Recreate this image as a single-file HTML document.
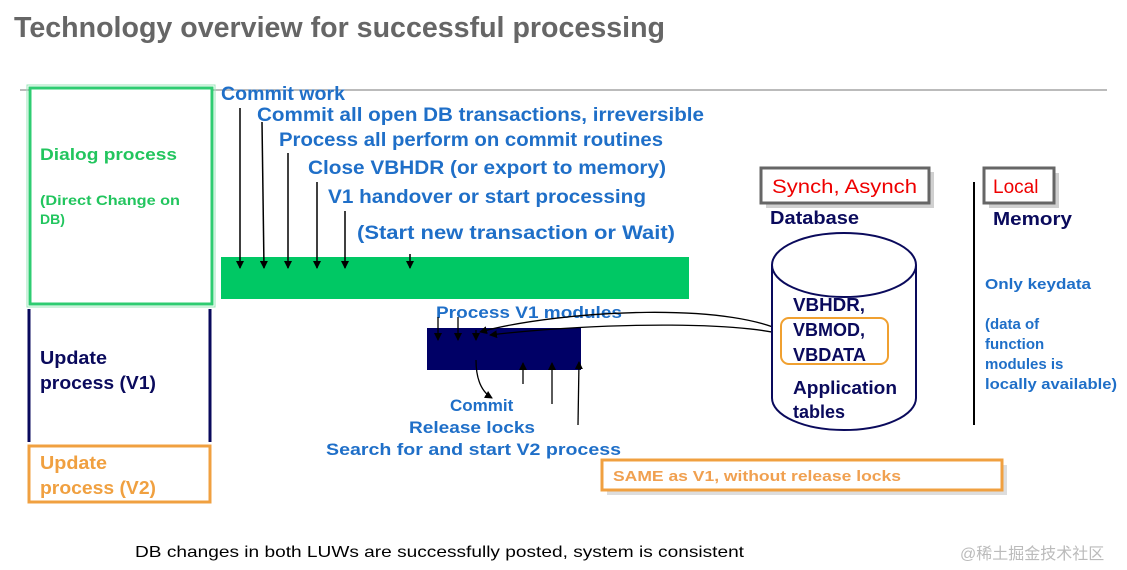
<!DOCTYPE html>
<html><head><meta charset="utf-8"><style>
html,body{margin:0;padding:0;background:#fff;}
svg{display:block}
.b{font-family:"Liberation Sans",sans-serif;font-weight:bold}
.blue{fill:#1f6fc8;font-size:19px}
.nv{fill:#0a0a5c;font-size:18px}
</style></head><body>
<svg width="1127" height="570" viewBox="0 0 1127 570" xmlns="http://www.w3.org/2000/svg">
<defs>
<marker id="h" markerWidth="8" markerHeight="8" refX="7" refY="4" orient="auto" markerUnits="userSpaceOnUse"><path d="M0,0 L8,4 L0,8 Z" fill="#000"/></marker></defs>
<text x="14" y="37" class="b" font-size="29" fill="#666" textLength="651" lengthAdjust="spacingAndGlyphs">Technology overview for successful processing</text>
<line x1="20" y1="90" x2="1107" y2="90" stroke="#777" stroke-width="1"/>
<rect x="30" y="88" width="182" height="216" fill="#fff" stroke="#2ecc71" stroke-width="3"/>
<rect x="27" y="85" width="188" height="222" fill="none" stroke="#9be6b8" stroke-width="1"/>
<text x="40" y="160" class="b" font-size="17" fill="#22c55e" textLength="137" lengthAdjust="spacingAndGlyphs">Dialog process</text>
<text x="40" y="205" class="b" font-size="14" fill="#22c55e" textLength="140" lengthAdjust="spacingAndGlyphs">(Direct Change on</text>
<text x="40" y="224" class="b" font-size="14" fill="#22c55e">DB)</text>
<line x1="29" y1="309" x2="29" y2="442" stroke="#0a0a5c" stroke-width="3"/>
<line x1="210" y1="309" x2="210" y2="442" stroke="#0a0a5c" stroke-width="3"/>
<text x="40" y="364" class="b nv" font-size="18" textLength="67" lengthAdjust="spacingAndGlyphs">Update</text>
<text x="40" y="389" class="b nv" font-size="18" textLength="116" lengthAdjust="spacingAndGlyphs">process (V1)</text>
<rect x="29" y="446" width="181" height="56" fill="#fff" stroke="#f0a040" stroke-width="3"/>
<text x="40" y="469" class="b" font-size="18" fill="#f0a040" textLength="67" lengthAdjust="spacingAndGlyphs">Update</text>
<text x="40" y="494" class="b" font-size="18" fill="#f0a040" textLength="116" lengthAdjust="spacingAndGlyphs">process (V2)</text>
<rect x="221" y="257" width="468" height="42" fill="#00c864"/>
<text x="221" y="100" class="b blue" textLength="124" lengthAdjust="spacingAndGlyphs">Commit work</text>
<text x="257" y="121" class="b blue" textLength="447" lengthAdjust="spacingAndGlyphs">Commit all open DB transactions, irreversible</text>
<text x="279" y="146" class="b blue" textLength="384" lengthAdjust="spacingAndGlyphs">Process all perform on commit routines</text>
<text x="308" y="174" class="b blue" textLength="358" lengthAdjust="spacingAndGlyphs">Close VBHDR (or export to memory)</text>
<text x="328" y="203" class="b blue" textLength="318" lengthAdjust="spacingAndGlyphs">V1 handover or start processing</text>
<text x="357" y="239" class="b blue" textLength="318" lengthAdjust="spacingAndGlyphs">(Start new transaction or Wait)</text>
<g stroke="#000" stroke-width="1.5">
<line x1="240" y1="108" x2="240" y2="268" marker-end="url(#h)"/>
<line x1="262" y1="122" x2="264" y2="268" marker-end="url(#h)"/>
<line x1="288" y1="153" x2="288" y2="268" marker-end="url(#h)"/>
<line x1="317" y1="182" x2="317" y2="268" marker-end="url(#h)"/>
<line x1="345" y1="211" x2="345" y2="268" marker-end="url(#h)"/>
<line x1="410" y1="254" x2="410" y2="268" marker-end="url(#h)"/>
</g>
<rect x="427" y="328" width="154" height="42" fill="#000066"/>
<text x="436" y="318" class="b" font-size="17" fill="#1f6fc8" textLength="186" lengthAdjust="spacingAndGlyphs">Process V1 modules</text>
<g stroke="#000" stroke-width="1.3" fill="none">
<line x1="438" y1="317" x2="438" y2="340" marker-end="url(#h)"/>
<line x1="458" y1="317" x2="458" y2="340" marker-end="url(#h)"/>
<line x1="476" y1="330" x2="476" y2="340" marker-end="url(#h)"/>
<path d="M793,337 C740,300 560,310 480,332" marker-end="url(#h)"/>
<path d="M800,340 C760,320 600,322 490,335" marker-end="url(#h)"/>
<path d="M476,360 C476,380 482,392 492,398" marker-end="url(#h)"/>
<line x1="523" y1="384" x2="523" y2="363" marker-end="url(#h)"/>
<line x1="552" y1="404" x2="552" y2="363" marker-end="url(#h)"/>
<line x1="578" y1="425" x2="579" y2="362" marker-end="url(#h)"/>
</g>
<text x="450" y="411" class="b" font-size="17" fill="#1f6fc8">Commit</text>
<text x="409" y="433" class="b" font-size="17" fill="#1f6fc8" textLength="126" lengthAdjust="spacingAndGlyphs">Release locks</text>
<text x="326" y="455" class="b" font-size="17" fill="#1f6fc8" textLength="295" lengthAdjust="spacingAndGlyphs">Search for and start V2 process</text>
<rect x="607" y="465" width="400" height="30" fill="#ddd"/>
<rect x="602" y="460" width="400" height="30" fill="#fff" stroke="#f0a040" stroke-width="3"/>
<text x="613" y="481" class="b" font-size="15" fill="#f0a050" textLength="288" lengthAdjust="spacingAndGlyphs">SAME as V1, without release locks</text>
<rect x="766" y="172" width="168" height="36" fill="#d0d0d0"/>
<rect x="761" y="168" width="168" height="35" fill="#fff" stroke="#666" stroke-width="3"/>
<text x="772" y="193" font-family="Liberation Sans,sans-serif" font-size="19" fill="#e00" textLength="145" lengthAdjust="spacingAndGlyphs">Synch, Asynch</text>
<text x="770" y="224" class="b nv" font-size="17" textLength="89" lengthAdjust="spacingAndGlyphs">Database</text>
<path d="M772,265 L772,398 A72,32 0 0 0 916,398 L916,265" fill="#fff" stroke="#0a0a5c" stroke-width="2"/>
<ellipse cx="844" cy="265" rx="72" ry="32" fill="#fff" stroke="#0a0a5c" stroke-width="2"/>
<rect x="781" y="318" width="107" height="46" rx="8" fill="none" stroke="#f0a030" stroke-width="2"/>
<text x="793" y="311" class="b nv" textLength="72" lengthAdjust="spacingAndGlyphs">VBHDR,</text>
<text x="793" y="336" class="b nv" textLength="72" lengthAdjust="spacingAndGlyphs">VBMOD,</text>
<text x="793" y="361" class="b nv" textLength="73" lengthAdjust="spacingAndGlyphs">VBDATA</text>
<text x="793" y="394" class="b nv" textLength="104" lengthAdjust="spacingAndGlyphs">Application</text>
<text x="793" y="418" class="b nv">tables</text>
<line x1="974" y1="182" x2="974" y2="425" stroke="#000" stroke-width="2"/>
<rect x="989" y="173" width="70" height="35" fill="#d0d0d0"/>
<rect x="984" y="168" width="70" height="35" fill="#fff" stroke="#666" stroke-width="3"/>
<text x="993" y="193" font-family="Liberation Sans,sans-serif" font-size="19" fill="#e00">Local</text>
<text x="993" y="225" class="b nv" font-size="17" textLength="79" lengthAdjust="spacingAndGlyphs">Memory</text>
<g class="b" font-size="15" fill="#1f6fc8">
<text x="985" y="289" textLength="106" lengthAdjust="spacingAndGlyphs">Only keydata</text>
<text x="985" y="329">(data of</text>
<text x="985" y="349">function</text>
<text x="985" y="369">modules is</text>
<text x="985" y="389" textLength="132" lengthAdjust="spacingAndGlyphs">locally available)</text>
</g>
<text x="135" y="557" font-family="Liberation Sans,sans-serif" font-size="16" fill="#000" textLength="609" lengthAdjust="spacingAndGlyphs">DB changes in both LUWs are successfully posted, system is consistent</text>
<text x="960" y="559" font-family="Liberation Sans,'Noto Sans CJK SC',sans-serif" font-size="16" fill="#bbb">@稀土掘金技术社区</text>
</svg>
</body></html>
